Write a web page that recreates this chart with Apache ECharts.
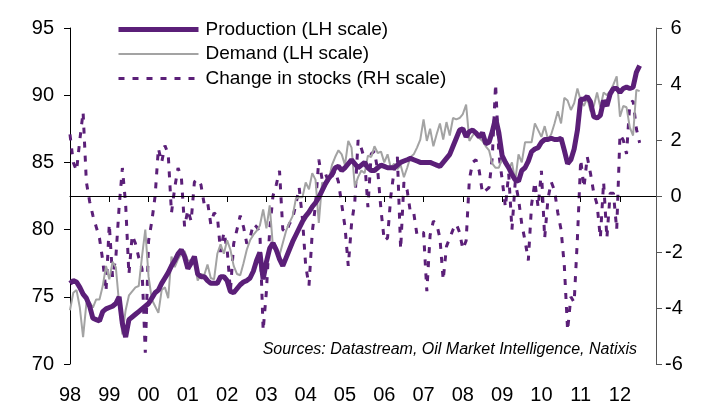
<!DOCTYPE html>
<html>
<head>
<meta charset="utf-8">
<script src="https://cdn.jsdelivr.net/npm/echarts@6/dist/echarts.min.js"></script>
<style>
  html, body { margin: 0; padding: 0; background: #fff; }
  #chart { width: 708px; height: 407px; }
</style>
</head>
<body>
<div id="chart"></div>
<script>
// years on the x axis (two-digit labels), monthly data Jan 1998 .. Jul 2012
const yearLabels = ['98', '99', '00', '01', '02', '03', '04', '05', '06', '07', '08', '09', '10', '11', '12'];

// World oil production, mb/d (LH scale)
const production = [
  76.0, 76.2, 76.1, 75.7, 75.2, 74.9, 74.3, 73.4, 73.3, 73.2, 73.9, 74.1,
  74.2, 74.3, 74.5, 75.0, 73.0, 72.0, 73.3, 73.5, 73.7, 73.9, 74.1, 74.3,
  74.5, 74.9, 75.3, 75.5, 76.0, 76.4, 76.8, 77.3, 77.7, 78.2, 78.5, 78.0,
  77.1, 77.5, 78.0, 76.7, 76.5, 76.5, 76.2, 76.0, 76.0, 76.0, 76.5, 76.5,
  76.2, 75.4, 75.3, 75.6, 75.9, 76.1, 76.2, 76.4, 76.9, 77.7, 78.3, 76.3,
  77.6, 78.6, 79.0, 78.5, 77.8, 77.3, 77.9, 78.5, 79.1, 79.6, 80.1, 80.6,
  81.0, 81.3, 81.7, 82.0, 82.4, 82.9, 83.4, 83.8, 84.1, 84.6, 84.7, 84.4,
  84.6, 84.9, 85.2, 84.9, 84.6, 84.8, 85.0, 84.6, 84.4, 84.4, 84.6, 84.8,
  84.7, 84.6, 84.6, 84.6, 84.8, 85.0, 85.1, 85.2, 85.3, 85.2, 85.1, 85.0,
  85.0, 85.0, 85.0, 84.9, 84.8, 84.7, 85.0, 85.3, 85.6, 86.2, 86.8, 87.4,
  87.5, 86.9, 87.3, 87.4, 87.2, 86.9, 87.2, 86.4, 86.5, 87.3, 88.3, 87.2,
  85.5, 85.0, 84.6, 84.1, 83.7, 83.6, 84.4, 84.6, 85.1, 85.8, 86.0, 86.1,
  86.5, 86.7, 86.7, 86.8, 86.7, 86.7, 86.8, 85.9, 84.9, 85.2, 86.0, 87.4,
  89.7, 89.7, 89.9, 89.5, 88.4, 88.3, 88.5, 89.6, 89.2, 90.1, 90.5, 90.5,
  90.2, 90.5, 90.6, 90.5, 90.6, 91.7, 92.2
];

// World oil demand, mb/d (LH scale)
const demand = [
  74.0, 75.3, 75.5, 74.2, 72.0, 74.5, 74.6, 74.2, 74.8, 74.8, 75.8, 77.3,
  76.3, 77.6, 77.2, 74.5, 72.2, 74.0, 75.1, 75.4, 75.7, 75.8, 78.0, 80.0,
  76.5, 74.8, 74.3, 73.8, 75.5, 75.7, 74.9, 78.0, 77.2, 77.8, 78.2, 78.4,
  77.7, 77.7, 77.6, 76.2, 76.7, 76.6, 77.4, 76.4, 76.3, 78.2, 78.9, 78.2,
  79.2, 78.5, 77.3, 76.7, 76.6, 77.5, 78.5, 79.2, 79.6, 79.9, 80.3, 81.5,
  80.1, 81.8, 78.7, 78.3, 78.1, 79.0, 79.9, 80.5, 81.0, 82.3, 82.4, 82.4,
  83.5, 83.0, 84.2, 83.7, 80.5, 83.5, 83.4, 83.6, 84.8, 85.4, 85.9, 85.6,
  84.8, 86.6, 86.1, 83.2, 83.9, 84.4, 84.2, 85.5, 85.4, 86.2, 85.7, 85.8,
  85.0, 85.6, 84.6, 84.9, 84.5, 84.8, 83.9, 84.6, 85.4, 85.6, 86.1, 86.7,
  88.2, 86.6, 87.5, 86.2, 87.1, 87.9, 86.7, 88.0, 87.0, 88.3, 88.2, 88.3,
  88.6, 89.3, 86.6, 87.0, 87.3, 86.8, 86.6, 86.2, 85.9, 84.9, 84.6, 84.6,
  85.3, 85.0, 84.5, 85.0, 83.6, 85.6, 85.0, 86.5, 86.5, 86.5, 87.9, 87.4,
  86.9, 87.7, 86.7, 87.1, 87.9, 88.8, 87.9, 89.8, 89.6, 88.9, 89.4, 90.5,
  89.6, 89.2, 89.8, 88.8, 89.2, 90.2, 89.1, 90.2, 90.0, 90.3, 90.8, 91.4,
  88.4, 89.2, 89.1, 87.6, 87.0, 90.4, 90.3
];

// Change in stocks, mb/d (RH scale)
const stocks = [
  2.2, 1.2, 0.9, 2.0, 3.0, 0.5, -0.2, -0.7, -1.1, -1.5, -2.3, -3.4,
  -1.0, -2.9, -2.2, -0.4, 1.0, -0.3, -2.8, -1.4, -1.7, -2.2, -2.6, -5.6,
  -1.6, -0.9, 0.0, 1.7, 1.2, 1.8, 1.5, -0.6, 0.3, 1.0, 0.7, -1.1,
  -0.5, -0.9, 0.5, 0.6, 0.4, -0.3, -0.2, -1.0, -0.6, -0.7, -2.0, -1.3,
  -1.9, -3.4, -1.7, -1.2, -0.7, -1.1, -1.7, -1.5, -1.0, -1.1, -1.3, -4.8,
  -3.4, -1.2, 0.0, 0.4, 0.9, -1.2, -1.3, -1.0, -0.8, -0.3, 0.3, -0.8,
  -2.5, -3.2, -1.3, -0.3, 1.3, 0.6, 0.8, 0.5, 0.7, 0.9, 0.5, -0.3,
  -1.1, -2.5, -1.0, -0.2, 2.0, 1.7, 1.3, -0.4, 1.5, 1.6, 0.9, -0.5,
  -1.6, -1.5, 0.0, 0.9, 1.4, -1.9, 0.5, 0.2, -0.6, -0.6, -1.4, -1.3,
  -1.3, -3.4, -1.4, -0.9, -1.0, -1.5, -3.0, -1.8, -1.5, -1.2, -1.0, -1.3,
  -1.9, -1.6, 0.6, 1.2, 1.3, 0.9, 0.1, 0.2, 0.3, 1.4, 4.0, 1.5,
  0.6, -0.4, 0.8, -1.2, 0.5, -0.1, -1.0, -1.6, -2.3, -0.3, 0.5, -0.4,
  0.9, -1.5, -0.1, 0.5, 0.2, -0.6, -1.2, -2.5, -4.8, -3.6, -3.8, -1.5,
  1.3, 0.3, 1.4, 0.8, 0.1, -0.3, -1.5, 0.5, -1.5, 0.1, 0.1, -1.2,
  2.2, 2.0, 1.5, 3.3, 3.4, 2.4, 1.9
];

// one category per month, Jan 98 .. Dec 12
const months = [];
yearLabels.forEach(function (y) {
  for (let m = 1; m <= 12; m++) months.push(y + '-' + (m < 10 ? '0' + m : m));
});

const purple = '#5b1f78';
const grey = '#a3a3a3';
const font = 'Liberation Sans';

const chart = echarts.init(document.getElementById('chart'), null, { renderer: 'canvas' });

const isYearStart = function (idx) { return idx % 12 === 0; };

const options = {
  animation: false,
  backgroundColor: '#fff',
  grid: { left: 70, right: 52, top: 28, bottom: 43, containLabel: false },
  legend: {
    orient: 'vertical',
    left: 116,
    top: 20,
    padding: 0,
    itemWidth: 80,
    itemHeight: 14,
    itemGap: 5.5,
    data: ['Production (LH scale)', 'Demand (LH scale)', 'Change in stocks (RH scale)'],
    lineStyle: { width: 'inherit' },
    // hide the symbol that echarts puts in the middle of a line legend icon
    itemStyle: { opacity: 0 },
    textStyle: { fontFamily: font, fontSize: 19, color: '#000', padding: [0, 0, 0, 2] }
  },
  xAxis: {
    type: 'category',
    data: months,
    boundaryGap: false,
    axisLine: { lineStyle: { color: '#000', width: 1 } },
    axisTick: { interval: isYearStart, length: 6, lineStyle: { color: '#000' } },
    axisLabel: {
      interval: isYearStart,
      margin: 21,
      fontFamily: font,
      fontSize: 20,
      color: '#000',
      formatter: function (v) { return v.slice(0, 2); }
    },
    splitLine: { show: false }
  },
  yAxis: [
    {
      type: 'value',
      position: 'left',
      min: 70,
      max: 95,
      interval: 5,
      axisLine: { show: true, lineStyle: { color: '#000' } },
      axisTick: { show: true, length: 6, lineStyle: { color: '#000' } },
      axisLabel: { margin: 16, fontFamily: font, fontSize: 20, color: '#000' },
      splitLine: { show: false }
    },
    {
      type: 'value',
      position: 'right',
      min: -6,
      max: 6,
      interval: 2,
      axisLine: { show: true, lineStyle: { color: '#555' } },
      axisTick: { show: true, length: 6, lineStyle: { color: '#555' } },
      axisLabel: {
        margin: 9,
        fontFamily: font,
        fontSize: 20,
        color: '#000',
        formatter: function (v) { return v < 0 ? String(v) : ' ' + v; }
      },
      splitLine: { show: false }
    }
  ],
  series: [
    {
      name: 'Production (LH scale)',
      type: 'line',
      yAxisIndex: 0,
      data: production,
      symbol: 'none',
      z: 4,
      lineStyle: { color: purple, width: 5 },
      itemStyle: { color: purple }
    },
    {
      name: 'Demand (LH scale)',
      type: 'line',
      yAxisIndex: 0,
      data: demand,
      symbol: 'none',
      z: 3,
      lineStyle: { color: grey, width: 2 },
      itemStyle: { color: grey }
    },
    {
      name: 'Change in stocks (RH scale)',
      type: 'line',
      yAxisIndex: 1,
      data: stocks,
      symbol: 'none',
      z: 2,
      lineStyle: { color: purple, width: 3, type: [6, 8] },
      itemStyle: { color: purple },
      markLine: {
        silent: true,
        symbol: 'none',
        label: { show: false },
        lineStyle: { color: '#000', width: 1, type: 'solid' },
        data: [{ yAxis: 0 }]
      }
    }
  ],
  graphic: [
    {
      type: 'text',
      right: 71,
      top: 342,
      style: {
        text: 'Sources: Datastream, Oil Market Intelligence, Natixis',
        font: 'italic 16px "Liberation Sans"',
        fill: '#000'
      }
    }
  ]
};

chart.setOption(options);
</script>
</body>
</html>
